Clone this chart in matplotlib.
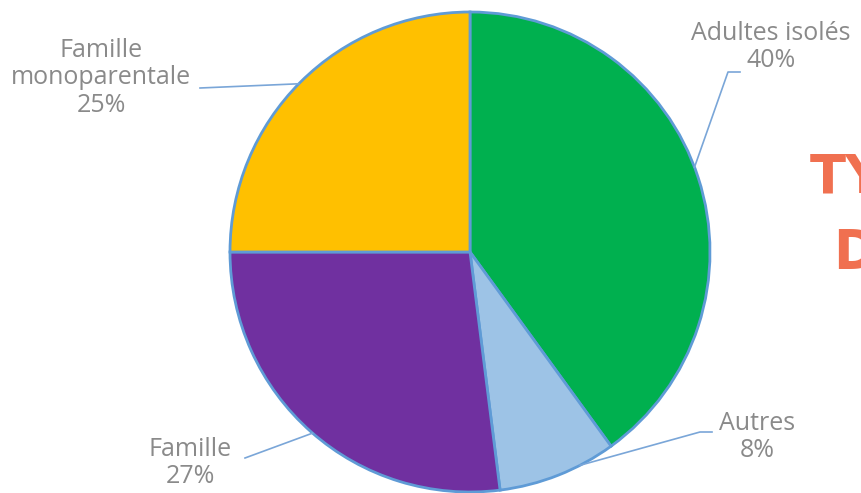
import numpy as np
import matplotlib
matplotlib.use('Agg')
import matplotlib.pyplot as plt

# Data
categories = ['Adultes isolés', 'Autres', 'Famille', 'Famille\nmonoparentale']
shares = [40, 8, 27, 25]
colors = ['#00b04f', '#9dc3e6', '#7030a0', '#ffc000']

fig = plt.figure(figsize=(8.61, 4.93), dpi=100)
ax = fig.add_axes([0, 0, 1, 1])

cx, cy, r = 470, 241, 240
wedges, _ = ax.pie(shares, colors=colors, startangle=90, counterclock=False,
                   center=(cx, cy), radius=r,
                   wedgeprops=dict(edgecolor='#5f9bd6', linewidth=2))

ax.set_xlim(0, 861)
ax.set_ylim(0, 493)
ax.set_aspect('equal')
ax.axis('off')

# label layout: (text x, text y, edge angle, elbow point, line end)
layout = [
    (771, 446, 20.7, (728, 421), (740, 421)),
    (757, 56, -62.7, (700, 61), (712, 61)),
    (190, 30, 229, None, (245, 35)),
    (101, 415, 135.5, None, (200, 405)),
]

label_color = '#8a8a8a'
line_color = '#7aa6d8'
for name, val, (tx, ty, ang, elbow, end) in zip(categories, shares, layout):
    ex = cx + r * np.cos(np.radians(ang))
    ey = cy + r * np.sin(np.radians(ang))
    xs, ys = [ex], [ey]
    if elbow:
        xs.append(elbow[0])
        ys.append(elbow[1])
    xs.append(end[0])
    ys.append(end[1])
    ax.plot(xs, ys, color=line_color, lw=1.2)
    ax.text(tx, ty, f'{name}\n{val}%', ha='center', va='center',
            fontsize=18, color=label_color, family='Open Sans',
            linespacing=1.15)

# Title cut off at the right edge
title_kw = dict(ha='left', va='center', fontsize=38, color='#f07050',
                family='DejaVu Sans', fontweight='bold')
ax.text(810, 315, 'TYPOLOGIE', **title_kw)
ax.text(834, 240, 'DES MÉNAGES', **title_kw)

fig.savefig('out.png', dpi=100)
